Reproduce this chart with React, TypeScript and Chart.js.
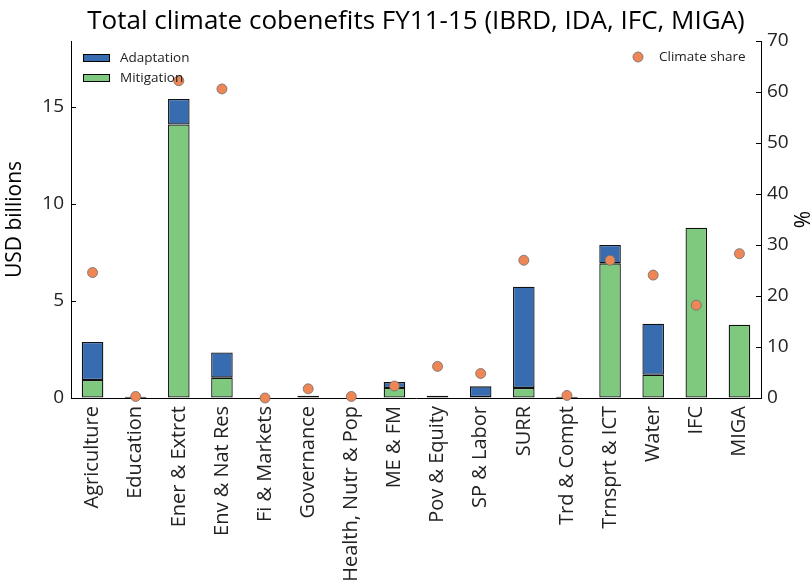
import React, { useEffect, useRef } from "react";
import { Chart, registerables } from "chart.js";

Chart.register(...registerables);

const categories = [
  "Agriculture", "Education", "Ener & Extrct", "Env & Nat Res", "Fi & Markets",
  "Governance", "Health, Nutr & Pop", "ME & FM", "Pov & Equity", "SP & Labor",
  "SURR", "Trd & Compt", "Trnsprt & ICT", "Water", "IFC", "MIGA",
];
const mitigation = [0.93, 0.01, 14.1, 1.05, null, 0.12, null, 0.52, 0.02, 0.05, 0.52, 0.01, 6.94, 1.2, 8.78, 3.78];
const adaptation = [1.96, 0.06, 1.31, 1.3, null, null, null, 0.3, 0.1, 0.55, 5.22, 0.06, 0.95, 2.63, null, null];
const climateShare = [24.6, 0.3, 62.2, 60.6, 0, 1.8, 0.3, 2.35, 6.2, 4.8, 27.0, 0.5, 27.0, 24.1, 18.2, 28.3];

const leftTicks = [0, 5, 10, 15];
const rightTicks = [0, 10, 20, 30, 40, 50, 60, 70];

const TITLE = "Total climate cobenefits FY11-15 (IBRD, IDA, IFC, MIGA)";
const FONT = "'Open Sans', sans-serif";
const BLUE = "#386cb0";
const GREEN = "#7fc97f";
const ORANGE = "#ef8656";

const decorPlugin = {
  id: "decor",
  afterDraw(chart: any) {
    const { ctx, chartArea } = chart;
    const { left, right, top, bottom } = chartArea;
    const y = chart.scales.y;
    const y1 = chart.scales.y1;
    ctx.save();
    // inward ticks
    ctx.strokeStyle = "#000";
    ctx.lineWidth = 1;
    ctx.beginPath();
    leftTicks.forEach((v) => {
      const p = Math.round(y.getPixelForValue(v)) + 0.5;
      ctx.moveTo(left, p);
      ctx.lineTo(left + 5, p);
    });
    rightTicks.forEach((v) => {
      const p = Math.round(y1.getPixelForValue(v)) + 0.5;
      ctx.moveTo(right, p);
      ctx.lineTo(right - 5, p);
    });
    ctx.stroke();

    // title
    ctx.fillStyle = "#000";
    ctx.font = `26px ${FONT}`;
    ctx.textAlign = "center";
    ctx.textBaseline = "middle";
    ctx.fillText(TITLE, (left + right) / 2, 22);

    // axis titles
    const midY = (top + bottom) / 2;
    ctx.font = `21px ${FONT}`;
    ctx.save();
    ctx.translate(15, midY);
    ctx.rotate(-Math.PI / 2);
    ctx.fillText("USD billions", 0, 0);
    ctx.restore();
    ctx.save();
    ctx.translate(804, midY);
    ctx.rotate(-Math.PI / 2);
    ctx.fillText("%", 0, 0);
    ctx.restore();

    // legends
    ctx.font = `13.5px ${FONT}`;
    ctx.textAlign = "left";
    const legendBars = [
      { label: chart.data.datasets[1].label, color: BLUE, y: 58 },
      { label: chart.data.datasets[0].label, color: GREEN, y: 78 },
    ];
    legendBars.forEach((it) => {
      ctx.fillStyle = it.color;
      ctx.fillRect(83, it.y - 4, 27, 8);
      ctx.strokeStyle = "#000";
      ctx.lineWidth = 1;
      ctx.strokeRect(83.5, it.y - 3.5, 26, 7);
      ctx.fillStyle = "#222";
      ctx.fillText(it.label, 120, it.y);
    });
    ctx.beginPath();
    ctx.arc(638, 57, 5, 0, Math.PI * 2);
    ctx.fillStyle = ORANGE;
    ctx.fill();
    ctx.strokeStyle = "rgba(110,110,110,0.8)";
    ctx.stroke();
    ctx.fillStyle = "#222";
    ctx.fillText(chart.data.datasets[2].label, 659, 57);
    ctx.restore();
  },
};

export default function App() {
  const ref = useRef<HTMLCanvasElement | null>(null);
  useEffect(() => {
    document.body.style.margin = "0";
    const canvas = ref.current!;
    const chart = new Chart(canvas, {
      type: "bar",
      data: {
        labels: categories,
        datasets: [
          {
            type: "bar",
            label: "Mitigation",
            data: mitigation as any,
            backgroundColor: GREEN,
            borderColor: "#111",
            borderWidth: 1.3,
            borderSkipped: false,
            barPercentage: 0.5,
            categoryPercentage: 1.0,
            stack: "s",
            yAxisID: "y",
            order: 2,
          },
          {
            type: "bar",
            label: "Adaptation",
            data: adaptation as any,
            backgroundColor: BLUE,
            borderColor: "#111",
            borderWidth: 1.3,
            borderSkipped: false,
            barPercentage: 0.5,
            categoryPercentage: 1.0,
            stack: "s",
            yAxisID: "y",
            order: 2,
          },
          {
            type: "line",
            label: "Climate share",
            data: climateShare,
            showLine: false,
            pointRadius: 5,
            pointBackgroundColor: ORANGE,
            pointBorderColor: "rgba(110,110,110,0.8)",
            pointBorderWidth: 1,
            yAxisID: "y1",
            clip: false as any,
            order: 0,
          } as any,
        ],
      },
      options: {
        animation: false,
        responsive: false,
        layout: { padding: { top: 41, left: 0, right: 0, bottom: 0 } },
        plugins: {
          legend: { display: false },
          title: { display: false },
          tooltip: { enabled: false },
        },
        scales: {
          x: {
            stacked: true,
            offset: true,
            grid: { display: false, drawTicks: false },
            border: { display: true, color: "#000", width: 1 },
            ticks: {
              minRotation: 90,
              maxRotation: 90,
              autoSkip: false,
              padding: 8,
              color: "#222",
              font: { family: FONT, size: 20 },
            },
            afterFit: (s: any) => { s.height = 188; },
          },
          y: {
            position: "left",
            stacked: true,
            min: 0,
            max: 18.4,
            grid: { drawOnChartArea: false, drawTicks: false },
            border: { display: true, color: "#000", width: 1 },
            ticks: {
              stepSize: 5,
              includeBounds: false,
              padding: 7,
              color: "#222",
              font: { family: FONT, size: 19 },
            },
            afterFit: (s: any) => { s.width = 71; },
          },
          y1: {
            position: "right",
            min: 0,
            max: 70,
            grid: { drawOnChartArea: false, drawTicks: false },
            border: { display: true, color: "#000", width: 1 },
            ticks: {
              stepSize: 10,
              padding: 6,
              color: "#222",
              font: { family: FONT, size: 19 },
            },
            afterFit: (s: any) => { s.width = 51; },
          },
        },
      },
      plugins: [decorPlugin],
    });
    return () => chart.destroy();
  }, []);
  return <canvas ref={ref} width={812} height={586} style={{ display: "block" }} />;
}
